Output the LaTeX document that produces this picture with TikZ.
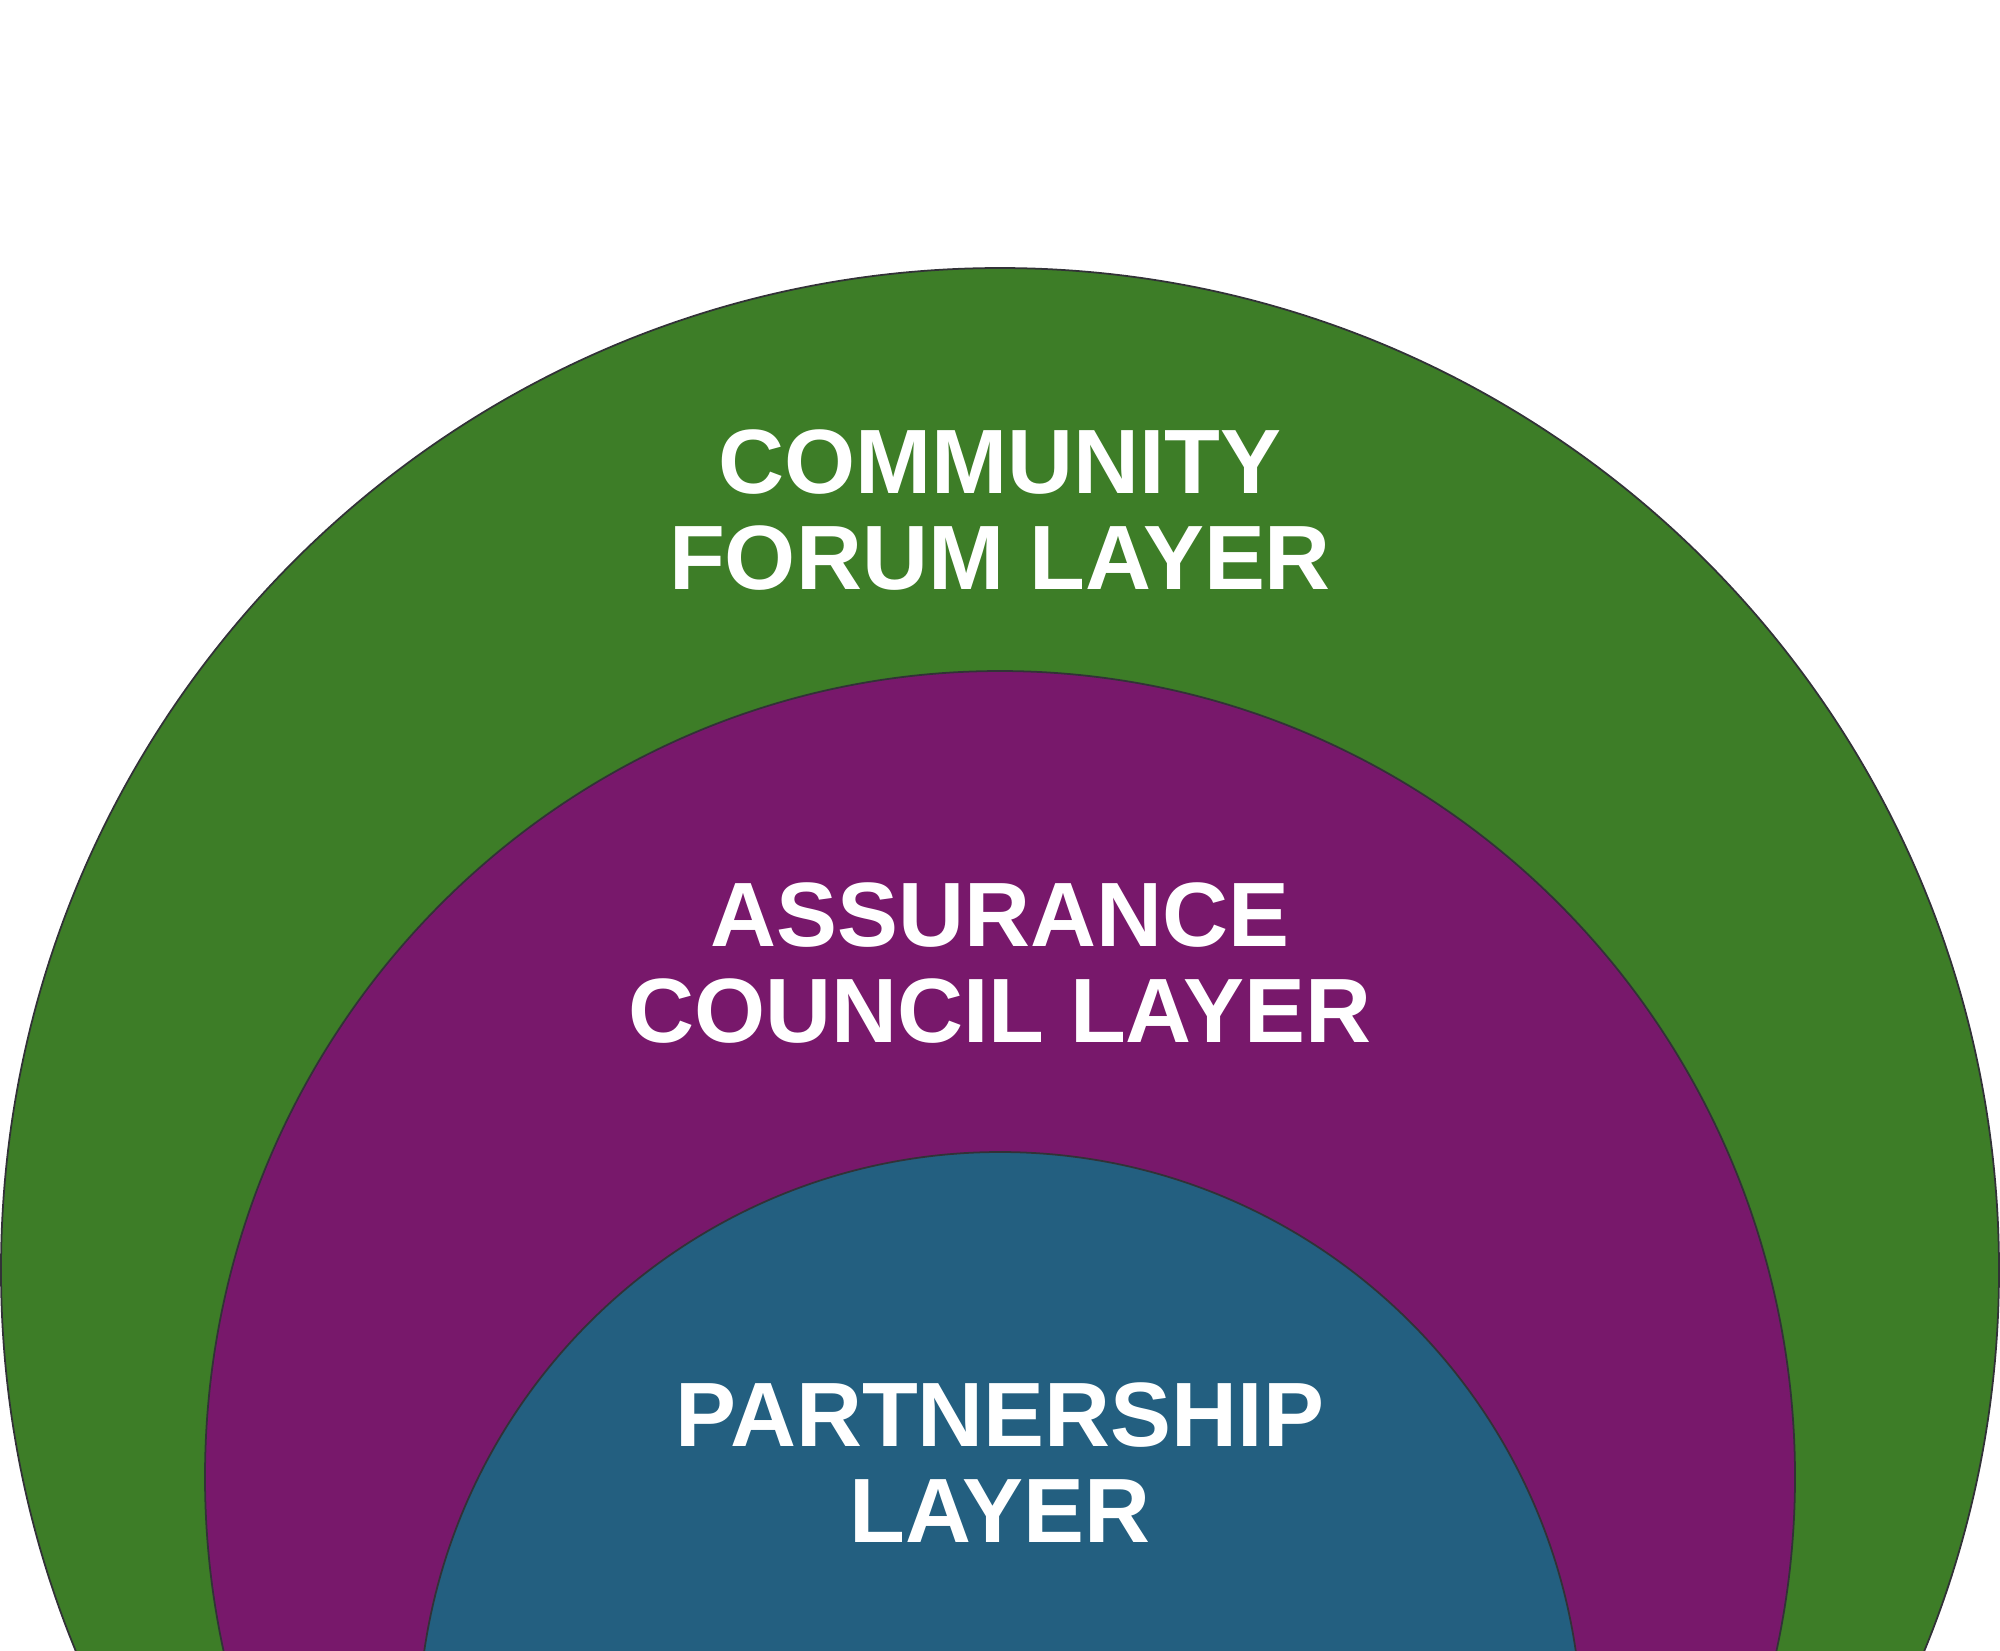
\documentclass[tikz,border=0pt]{standalone}
\usepackage{fontspec}
\setmainfont{Liberation Sans}
\definecolor{layergreen}{RGB}{61,125,39}
\definecolor{layerpurple}{RGB}{120,24,107}
\definecolor{layerblue}{RGB}{35,95,128}
\definecolor{edgegray}{RGB}{50,50,55}
\begin{document}
\begin{tikzpicture}[
  layer/.style={draw=edgegray, line width=0.5pt},
  lbl/.style={text=white, font=\fontsize{26}{27.3}\selectfont\bfseries, align=center, inner sep=0pt}
]
\useasboundingbox (0,0) rectangle (20,-16.5);
\begin{scope}
\clip (0,0) rectangle (20,-16.5);
\path[layer, fill=layergreen] (10,-12.70) ellipse [x radius=9.99, y radius=10.02];
\path[layer, fill=layerpurple] (10,-14.77) ellipse [x radius=7.95, y radius=8.06];
\path[layer, fill=layerblue] (10,-17.37) ellipse [x radius=5.82, y radius=5.85];
\end{scope}
\node[lbl] (community) at (10,-5.10) {COMMUNITY\\FORUM LAYER};
\node[lbl] (assurance) at (10,-9.63) {ASSURANCE\\COUNCIL LAYER};
\node[lbl] (partnership) at (10,-14.63) {PARTNERSHIP\\LAYER};
\end{tikzpicture}
\end{document}
